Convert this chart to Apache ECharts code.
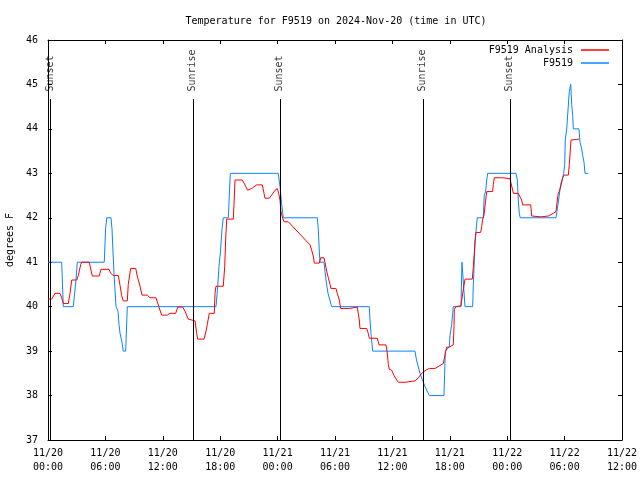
<!DOCTYPE html>
<html><head><meta charset="utf-8">
<script src="https://cdn.jsdelivr.net/npm/echarts@6/dist/echarts.min.js"></script>
<style>html,body{margin:0;padding:0;background:#fff}#c{width:640px;height:480px}</style>
</head><body><div id="c"></div>
<script>
const titleText = 'Temperature for F9519 on 2024-Nov-20 (time in UTC)';
const seriesNames = ['F9519 Analysis', 'F9519'];
const yAxisTitle = 'degrees F';
const sunEventHours = [0.28, 15.19, 24.25, 39.20, 48.29];
const sunEventNames = ['Sunset', 'Sunrise', 'Sunset', 'Sunrise', 'Sunset'];

// [hours since 11/20 00:00 UTC, degrees F]
const analysisPoints = [
  [0,40.17],[0.39,40.17],[0.73,40.3],[1.25,40.3],[1.43,40.2],[1.60,40.07],[2.12,40.07],[2.30,40.3],[2.48,40.6],[3.00,40.6],
  [3.17,40.7],[3.27,40.8],[3.42,40.95],[3.52,41.0],[4.32,41.0],[4.46,40.85],[4.63,40.69],[5.36,40.69],[5.54,40.84],[6.38,40.84],
  [6.55,40.75],[6.83,40.7],[7.35,40.7],[7.53,40.48],[7.70,40.25],[7.87,40.13],[8.29,40.13],[8.39,40.5],[8.64,40.86],[9.17,40.86],
  [9.33,40.69],[9.62,40.46],[9.83,40.26],[10.38,40.26],[10.66,40.2],[11.29,40.2],[11.60,39.99],[11.88,39.81],[12.47,39.81],[12.75,39.85],
  [13.35,39.85],[13.56,39.99],[14.08,39.99],[14.32,39.9],[14.66,39.72],[14.84,39.68],[15.37,39.68],[15.54,39.4],[15.65,39.27],[16.31,39.27],
  [16.52,39.45],[16.65,39.6],[16.86,39.85],[17.38,39.85],[17.46,40.3],[17.56,40.46],[18.32,40.46],[18.47,40.9],[18.57,41.5],[18.68,41.97],
  [19.37,41.97],[19.44,42.3],[19.55,42.85],[20.31,42.85],[20.59,42.74],[20.87,42.62],[21.29,42.66],[21.81,42.74],[22.40,42.74],[22.58,42.55],
  [22.68,42.44],[23.13,42.44],[23.38,42.51],[23.73,42.62],[23.97,42.66],[24.11,42.55],[24.25,42.4],[24.35,42.14],[24.53,41.99],[24.67,41.91],
  [25.12,41.91],[27.39,41.39],[27.56,41.27],[27.73,41.14],[27.84,40.98],[28.36,40.98],[28.50,41.1],[28.67,41.14],[28.85,41.1],[28.95,41.0],
  [29.13,40.8],[29.30,40.65],[29.48,40.5],[29.58,40.41],[30.10,40.41],[30.24,40.3],[30.45,40.15],[30.59,39.96],[31.49,39.96],[31.57,39.99],
  [32.33,39.99],[32.43,39.85],[32.54,39.7],[32.61,39.51],[33.31,39.51],[33.48,39.4],[33.58,39.29],[34.42,39.29],[34.60,39.14],[35.33,39.14],
  [35.47,38.95],[35.57,38.7],[35.68,38.59],[35.93,38.57],[36.17,38.45],[36.45,38.35],[36.62,38.3],[37.42,38.3],[38.36,38.33],[38.71,38.4],
  [39.06,38.5],[39.30,38.54],[39.58,38.58],[39.86,38.61],[40.45,38.61],[41.32,38.72],[41.57,38.99],[41.67,39.09],[41.95,39.09],[42.36,39.14],
  [42.44,39.55],[42.47,39.93],[42.62,40.0],[43.17,40.02],[43.35,40.3],[43.59,40.62],[44.35,40.62],[44.46,40.9],[44.56,41.2],[44.63,41.46],
  [44.74,41.67],[45.23,41.67],[45.33,41.8],[45.44,41.97],[45.57,42.05],[45.75,42.4],[45.86,42.59],[46.48,42.59],[46.55,42.75],[46.65,42.9],
  [47.53,42.9],[48.29,42.88],[48.47,42.85],[48.57,42.62],[48.64,42.55],[49.16,42.55],[49.34,42.47],[49.51,42.4],[49.62,42.29],[50.46,42.29],
  [50.56,42.04],[50.66,42.02],[51.53,42.02],[52.29,42.04],[52.47,42.07],[52.82,42.1],[53.10,42.14],[53.24,42.4],[53.34,42.55],[53.45,42.6],
  [53.59,42.7],[53.69,42.74],[53.80,42.9],[53.94,42.96],[54.39,42.96],[54.49,43.2],[54.56,43.41],[54.67,43.75],[55.50,43.77]
];

const observedPoints = [
  [0,41.0],[1.43,41.0],[1.60,40.0],[2.64,40.0],[2.93,40.6],[3.06,41.0],[5.88,41.0],[6.02,41.75],[6.14,42.0],[6.59,42.0],
  [6.69,41.75],[6.79,41.25],[6.90,40.75],[7.11,40.0],[7.32,39.9],[7.42,39.6],[7.53,39.4],[7.73,39.2],[7.87,39.0],[8.12,39.0],
  [8.29,40.0],[17.56,40.0],[17.74,40.45],[17.87,40.9],[18.03,41.25],[18.19,41.75],[18.32,42.0],[18.85,42.0],[18.95,42.5],[19.06,43.0],
  [24.07,43.0],[24.25,42.7],[24.43,42.3],[24.60,42.0],[28.15,42.0],[28.25,41.75],[28.36,41.25],[28.43,41.0],[28.85,41.0],[28.95,40.8],
  [29.06,40.6],[29.16,40.45],[29.27,40.3],[29.65,40.0],[33.58,40.0],[33.66,39.7],[33.76,39.4],[33.94,39.0],[38.36,39.0],[38.52,38.8],
  [38.88,38.5],[39.41,38.2],[39.86,38.0],[41.39,38.0],[41.53,39.0],[41.67,39.0],[41.95,39.1],[42.02,39.35],[42.20,39.6],[42.30,39.85],
  [42.36,40.0],[43.17,40.0],[43.27,41.0],[43.41,41.0],[43.59,40.0],[44.39,40.0],[44.46,40.5],[44.63,41.4],[44.74,41.7],[44.87,42.0],
  [45.50,42.0],[45.60,42.5],[45.75,42.6],[45.86,42.85],[45.96,43.0],[48.92,43.0],[49.06,42.85],[49.16,42.4],[49.26,42.1],[49.37,42.0],
  [53.10,42.0],[53.24,42.2],[53.44,42.5],[53.59,42.75],[53.80,42.9],[53.90,43.0],[54.01,43.2],[54.07,43.75],[54.22,44.0],[54.35,44.4],
  [54.49,44.84],[54.64,45.0],[54.74,44.55],[54.85,44.3],[54.91,44.0],[55.50,44.0],[55.61,43.7],[55.79,43.55],[55.89,43.4],[56.03,43.25],
  [56.13,43.0],[56.48,43.0]
];

const FONT = 'DejaVu Sans Mono';
const X_MIN = 0, X_MAX = 60, X_STEP = 6;
const Y_MIN = 37, Y_MAX = 46, Y_STEP = 1;
const SUN_LINE_TOP = 44.67, SUN_LABEL_AT = 44.83;

function tickLabel(h) {
  const d = 20 + Math.floor(h / 24);
  const hh = h % 24;
  return '11/' + d + '\n' + String(hh).padStart(2, '0') + ':00';
}

const axisLineStyle = { show: true, onZero: false, lineStyle: { color: '#000', width: 1 } };
const tickStyle = { show: true, inside: true, length: 4, lineStyle: { color: '#000', width: 1 } };

const chart = echarts.init(document.getElementById('c'), null, { renderer: 'canvas' });
chart.setOption({
  animation: false,
  backgroundColor: '#fff',
  title: {
    text: titleText, left: 331, top: 11, textAlign: 'center',
    textStyle: { fontFamily: FONT, fontSize: 10, fontWeight: 'normal', color: '#000' }
  },
  legend: {
    data: seriesNames, orient: 'vertical', right: 26, top: 39, align: 'right',
    icon: 'rect', itemWidth: 28, itemHeight: 1.5, itemGap: 1,
    textStyle: { fontFamily: FONT, fontSize: 10, color: '#000', lineHeight: 12, padding: [0, 3, 0, 0] }
  },
  grid: { left: 48, right: 18, top: 40, bottom: 40, containLabel: false, outerBoundsMode: 'none' },
  xAxis: [
    { type: 'value', min: X_MIN, max: X_MAX, interval: X_STEP, position: 'bottom',
      axisLine: axisLineStyle, axisTick: tickStyle, splitLine: { show: false },
      axisLabel: { formatter: tickLabel, color: '#000', fontFamily: FONT, fontSize: 10, lineHeight: 14, margin: 6 } },
    { type: 'value', min: X_MIN, max: X_MAX, interval: X_STEP, position: 'top',
      axisLine: axisLineStyle, axisTick: tickStyle, splitLine: { show: false }, axisLabel: { show: false } }
  ],
  yAxis: [
    { type: 'value', min: Y_MIN, max: Y_MAX, interval: Y_STEP, position: 'left',
      name: yAxisTitle, nameLocation: 'middle', nameGap: 32, nameRotate: 90,
      nameTextStyle: { fontFamily: FONT, fontSize: 10, color: '#000' },
      axisLine: axisLineStyle, axisTick: tickStyle, splitLine: { show: false },
      axisLabel: { color: '#000', fontFamily: FONT, fontSize: 10, margin: 10 } },
    { type: 'value', min: Y_MIN, max: Y_MAX, interval: Y_STEP, position: 'right',
      axisLine: axisLineStyle, axisTick: tickStyle, splitLine: { show: false }, axisLabel: { show: false } }
  ],
  series: [
    {
      name: 'sun', type: 'scatter', silent: true, symbolSize: 1,
      itemStyle: { color: 'rgba(0,0,0,0)' },
      data: sunEventHours.map((h, i) => ({ value: [h, SUN_LABEL_AT], name: sunEventNames[i] })),
      label: {
        show: true, formatter: p => p.name, position: [0, 0], rotate: 90,
        align: 'left', verticalAlign: 'middle',
        fontFamily: FONT, fontSize: 10, color: '#000'
      },
      markLine: {
        silent: true, symbol: ['none', 'none'], label: { show: false },
        lineStyle: { color: '#000', width: 1, type: 'solid' },
        data: sunEventHours.map(h => [{ coord: [h, SUN_LINE_TOP] }, { coord: [h, Y_MIN] }])
      },
      z: 1
    },
    {
      name: seriesNames[0], type: 'line', showSymbol: false, symbol: 'none',
      data: analysisPoints, lineStyle: { color: '#ff0000', width: 1 }, itemStyle: { color: '#ff0000' }, z: 3
    },
    {
      name: seriesNames[1], type: 'line', showSymbol: false, symbol: 'none',
      data: observedPoints, lineStyle: { color: '#0a84ff', width: 1 }, itemStyle: { color: '#0a84ff' }, z: 2
    }
  ]
});
</script>
</body></html>
